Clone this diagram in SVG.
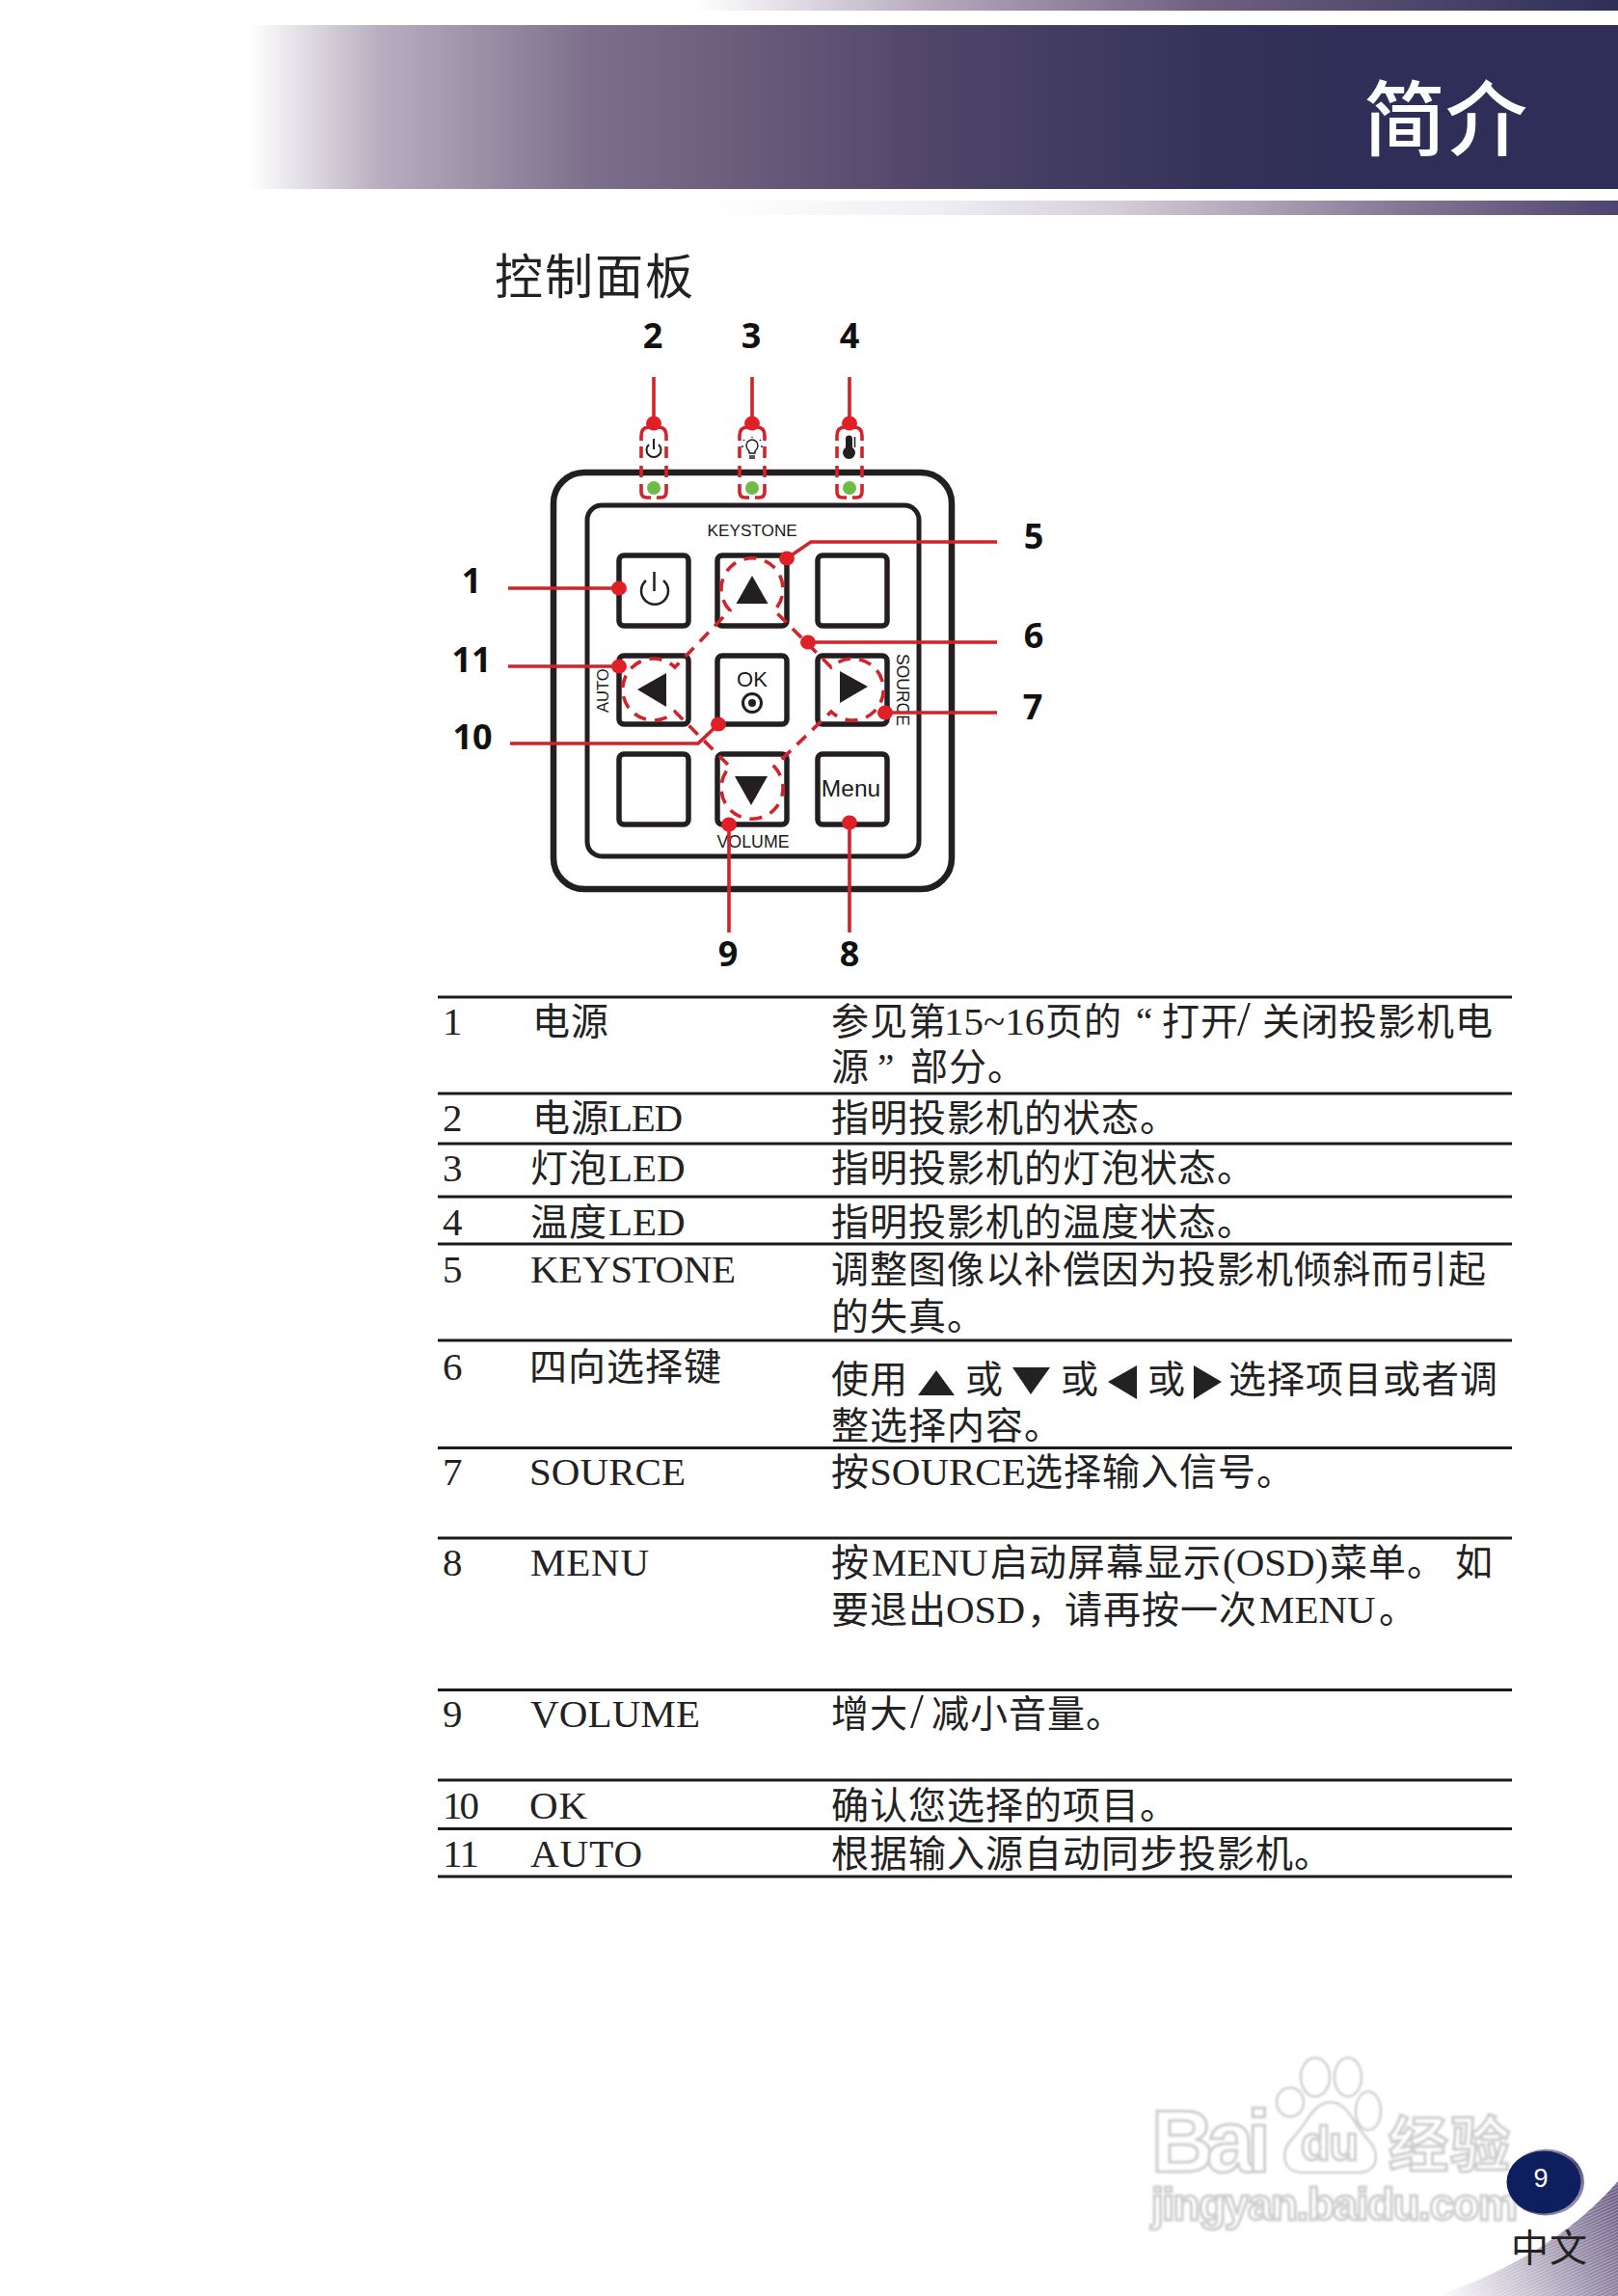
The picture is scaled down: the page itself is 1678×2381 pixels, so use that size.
<svg xmlns="http://www.w3.org/2000/svg" xmlns:xlink="http://www.w3.org/1999/xlink" width="1678" height="2381" viewBox="0 0 1678 2381">
<style>
text{font-family:"Liberation Serif","Noto Sans CJK SC",serif;font-size:39px;letter-spacing:1px;fill:#222}
.l{font-size:41px;letter-spacing:0}
.s{font-size:50px;letter-spacing:0}
.h{font-family:"Noto Sans CJK SC",sans-serif;letter-spacing:0}
.n{font-family:"Open Sans","Liberation Sans",sans-serif;font-weight:700;font-size:36px;letter-spacing:0;fill:#111;text-anchor:middle}
.a{font-family:"Liberation Sans",Arial,sans-serif;letter-spacing:0;fill:#1a1a1a}
.rule{stroke:#1a1a1a;stroke-width:3}
.btn{fill:#fff;stroke:#231f20;stroke-width:5.5}
.tri{fill:#231f20}
.lead{fill:none;stroke:#d2232a;stroke-width:3.6}
.dash{fill:none;stroke:#d2232a;stroke-width:3.6}
.dot{fill:#e01f26}
.ic{fill:none;stroke:#231f20;stroke-width:2}
.wm{fill:#fff;stroke:#cfcfcf;stroke-width:3;font-family:"Liberation Sans",sans-serif;font-weight:700;letter-spacing:0}
</style>
<defs>
<linearGradient id="gTop" gradientUnits="userSpaceOnUse" x1="721" y1="0" x2="1678" y2="0">
<stop offset="0" stop-color="#fff"/><stop offset=".26" stop-color="#b3a8bb"/><stop offset=".55" stop-color="#6f6081"/><stop offset="1" stop-color="#2e2e58"/>
</linearGradient>
<linearGradient id="gBand" gradientUnits="userSpaceOnUse" x1="258" y1="0" x2="1678" y2="0">
<stop offset="0" stop-color="#fff"/><stop offset=".095" stop-color="#b8aec0"/><stop offset=".25" stop-color="#7d6f8b"/><stop offset=".335" stop-color="#70607f"/><stop offset=".50" stop-color="#4f4569"/><stop offset=".70" stop-color="#35325a"/><stop offset=".83" stop-color="#2e2e58"/>
</linearGradient>
<linearGradient id="gLow" gradientUnits="userSpaceOnUse" x1="735" y1="0" x2="1678" y2="0">
<stop offset="0" stop-color="#fff"/><stop offset=".25" stop-color="#f1eef3"/><stop offset=".45" stop-color="#d3cdd8"/><stop offset=".595" stop-color="#b0a5b9"/><stop offset=".74" stop-color="#8b7c98"/><stop offset="1" stop-color="#4e4470"/>
</linearGradient>
<linearGradient id="gCorner" gradientUnits="userSpaceOnUse" x1="1490" y1="2381" x2="1678" y2="2290">
<stop offset="0" stop-color="#fff"/><stop offset=".4" stop-color="#c9c3d2"/><stop offset="1" stop-color="#6e6288"/>
</linearGradient>
<pattern id="stripe" width="6" height="3" patternUnits="userSpaceOnUse" patternTransform="rotate(-24)">
<rect width="6" height="1" fill="#fff" opacity=".35"/>
</pattern>
<linearGradient id="gPage" x1="0" y1="0" x2="1" y2="1">
<stop offset="0" stop-color="#e6e4ee"/><stop offset=".55" stop-color="#4d4a78"/><stop offset="1" stop-color="#b9b6cc"/>
</linearGradient>
<filter id="soft" x="-5%" y="-5%" width="110%" height="110%"><feGaussianBlur stdDeviation="1.2"/></filter>
<g id="ledBox">
<path class="dash" d="M-6 443H-5Q-13 443 -13 452V457M-13 463V475M-13 483V495M-13 502V510Q-13 516 -7 516H-3M3 516H7Q13 516 13 510V502M13 495V483M13 475V463M13 457V452Q13 443 5 443H6"/>
<circle cx="0" cy="506" r="7" fill="#6abd45"/>
</g>
</defs>
<rect width="1678" height="2381" fill="#fff"/>

<g id="header">
<rect x="721" y="0" width="957" height="11" fill="url(#gTop)"/>
<rect x="258" y="26" width="1420" height="170" fill="url(#gBand)"/>
<rect x="735" y="208" width="943" height="15" fill="url(#gLow)"/>
<text class="h" x="1414" y="155" font-weight="500" style="font-size:85px;fill:#fff" textLength="170">简介</text>
<text class="h" x="513" y="305" style="font-size:50px;fill:#222" textLength="206">控制面板</text>
</g>

<g id="panel">
<rect x="574" y="490" width="413" height="432" rx="32" fill="#fff" stroke="#231f20" stroke-width="6.5"/>
<rect x="609" y="524" width="344" height="364" rx="15" fill="#fff" stroke="#231f20" stroke-width="5"/>
<text class="a" x="733.5" y="556" style="font-size:17.2px">KEYSTONE</text>
<text class="a" x="743.5" y="879" style="font-size:17.8px">VOLUME</text>
<text class="a" transform="translate(631 739) rotate(-90)" style="font-size:16.5px">AUTO</text>
<text class="a" transform="translate(930 678) rotate(90)" style="font-size:17.5px">SOURCE</text>
</g>

<g id="led-power"><use xlink:href="#ledBox" href="#ledBox" x="678"/>
<path class="ic" d="M673 461A7.5 7.5 0 1 0 683 461M678 455V466"/></g>
<g id="led-lamp"><use xlink:href="#ledBox" href="#ledBox" x="780"/>
<path class="ic" style="stroke-width:1.5" d="M777 470V468Q774 465 774 462A6 6 0 0 1 786 462Q786 465 783 468V470ZM777 473H783M777 475H783M780 453V454M771 456L772 457M789 456L788 457M769 463H771M789 463H791"/></g>
<g id="led-temp"><use xlink:href="#ledBox" href="#ledBox" x="881"/>
<path fill="#231f20" d="M877 455A3.5 3.5 0 0 1 884 455V464A6.5 6.5 0 1 1 877 464Z"/>
<path stroke="#231f20" stroke-width="1.5" d="M886.500 453V464"/></g>

<g id="btn-power"><rect class="btn" x="642" y="576" width="72" height="73" rx="5"/>
<path class="ic" d="M670 602A14 14 0 1 0 688 602M678.500 593V613" style="stroke-width:2.500"/></g>
<g id="btn-up"><rect class="btn" x="744" y="576" width="72" height="73" rx="5"/><polygon class="tri" points="780,597 796.500,626 763.500,626"/></g>
<g id="btn-blank1"><rect class="btn" x="848" y="576" width="72" height="73" rx="5"/></g>
<g id="btn-left"><rect class="btn" x="642" y="680" width="72" height="71" rx="5"/><polygon class="tri" points="661,715 691,698 691,733"/></g>
<g id="btn-ok"><rect class="btn" x="744" y="680" width="72" height="71" rx="5"/>
<text class="a" x="780" y="712" text-anchor="middle" style="font-size:22px">OK</text>
<circle cx="780" cy="729" r="9.500" fill="none" stroke="#231f20" stroke-width="3"/><circle cx="780" cy="729" r="4" fill="#231f20"/></g>
<g id="btn-right"><rect class="btn" x="848" y="680" width="72" height="71" rx="5"/><polygon class="tri" points="900,712 871,696 871,729"/></g>
<g id="btn-blank2"><rect class="btn" x="642" y="782" width="72" height="73" rx="5"/></g>
<g id="btn-down"><rect class="btn" x="744" y="782" width="72" height="73" rx="5"/><polygon class="tri" points="762,805 796,805 779,835"/></g>
<g id="btn-menu"><rect class="btn" x="848" y="782" width="72" height="73" rx="5"/>
<text class="a" x="882.500" y="826" text-anchor="middle" style="font-size:24.500px">Menu</text></g>

<g id="callout-labels">
<text class="n" x="677" y="361">2</text><text class="n" x="779" y="361">3</text><text class="n" x="881" y="361">4</text>
<text class="n" x="1072" y="569">5</text><text class="n" x="1072" y="672">6</text><text class="n" x="1071" y="746">7</text>
<text class="n" x="489" y="615">1</text><text class="n" x="489" y="697">11</text><text class="n" x="490" y="777">10</text>
<text class="n" x="755" y="1002">9</text><text class="n" x="881" y="1002">8</text>
</g>

<g id="connectors">
<path class="dash" stroke-dasharray="13 9" d="M757 633A32 32 0 1 1 803 633L808 638L862 692A32 32 0 1 1 862 738L808 790L803 795A32 32 0 1 1 757 795L752 790L700 738A32 32 0 1 1 700 692L752 638Z"/>
<path class="lead" d="M678 391V439M780 391V439M881 391V439M527 610H642M1034 562H841L816 579M1034 666H838M1034 739H918M527 691H642M529 771H724L745 751M756 967V855M881 967V853"/>
<g class="dot">
<ellipse cx="678" cy="439" rx="8" ry="7.500"/><ellipse cx="780" cy="439" rx="8" ry="7.500"/><ellipse cx="881" cy="439" rx="8" ry="7.500"/>
<ellipse cx="642" cy="610" rx="8" ry="7.500"/><ellipse cx="816" cy="579" rx="8" ry="7.500"/><ellipse cx="838" cy="666" rx="8" ry="7.500"/>
<ellipse cx="918" cy="739" rx="8" ry="7.500"/><ellipse cx="642" cy="691" rx="8" ry="7.500"/><ellipse cx="745" cy="751" rx="8" ry="7.500"/>
<ellipse cx="756" cy="855" rx="8" ry="7.500"/><ellipse cx="881" cy="853" rx="8" ry="7.500"/>
</g>
</g>

<g id="table">
<g id="rules" class="rule">
<path d="M454 1034H1568M454 1134H1568M454 1186H1568M454 1241H1568M454 1290H1568M454 1390H1568M454 1501.500H1568M454 1595H1568M454 1752.500H1568M454 1846H1568M454 1896.500H1568M454 1946H1568"/>
</g>
<g id="row1"><text class="l" x="459" y="1073">1</text><text x="552" y="1073">电源</text>
<text x="862" y="1073">参见第<tspan class="l" x="979">15~16</tspan><tspan x="1084">页的</tspan><tspan x="1178">“</tspan><tspan x="1205">打开</tspan><tspan class="s" x="1283">/</tspan><tspan x="1309">关闭投影机电</tspan></text>
<text x="862" y="1120">源<tspan x="910">”</tspan><tspan x="944">部分。</tspan></text></g>
<g id="row2"><text class="l" x="459" y="1173">2</text><text x="552" y="1173">电源<tspan class="l" x="631" textLength="77">LED</tspan></text><text x="862" y="1173">指明投影机的状态。</text></g>
<g id="row3"><text class="l" x="459" y="1225">3</text><text x="550" y="1225">灯泡<tspan class="l" x="631">LED</tspan></text><text x="862" y="1225">指明投影机的灯泡状态。</text></g>
<g id="row4"><text class="l" x="459" y="1281">4</text><text x="550" y="1281">温度<tspan class="l" x="631">LED</tspan></text><text x="862" y="1281">指明投影机的温度状态。</text></g>
<g id="row5"><text class="l" x="459" y="1330">5</text><text class="l" x="550" y="1330" textLength="213">KEYSTONE</text>
<text x="862" y="1330">调整图像以补偿因为投影机倾斜而引起</text><text x="862" y="1379">的失真。</text></g>
<g id="row6"><text class="l" x="459" y="1431">6</text><text x="549" y="1431">四向选择键</text>
<text x="862" y="1444">使用</text><polygon fill="#222" points="971,1421 990,1447 952,1447"/>
<text x="1001" y="1444">或</text><polygon fill="#222" points="1050,1418 1089,1418 1069,1446"/>
<text x="1100" y="1444">或</text><polygon fill="#222" points="1149,1433 1179,1416 1179,1451"/>
<text x="1190" y="1444">或</text><polygon fill="#222" points="1238,1416 1267,1433 1238,1451"/>
<text x="1274" y="1444">选择项目或者调</text>
<text x="862" y="1492">整选择内容。</text></g>
<g id="row7"><text class="l" x="459" y="1540">7</text><text class="l" x="549" y="1540" textLength="162">SOURCE</text><text x="862" y="1540">按<tspan class="l" x="902">SOURCE</tspan><tspan x="1063">选择输入信号。</tspan></text></g>
<g id="row8"><text class="l" x="459" y="1634">8</text><text class="l" x="550" y="1634" textLength="123">MENU</text>
<text x="862" y="1634">按<tspan class="l" x="904">MENU</tspan><tspan x="1027">启动屏幕显示</tspan><tspan class="l" x="1268">(OSD)</tspan><tspan x="1379">菜单。</tspan><tspan x="1509">如</tspan></text>
<text x="862" y="1683">要退出<tspan class="l" x="981">OSD</tspan><tspan x="1065">，</tspan><tspan x="1104">请再按一次</tspan><tspan class="l" x="1306">MENU</tspan><tspan x="1430">。</tspan></text></g>
<g id="row9"><text class="l" x="459" y="1791">9</text><text class="l" x="550" y="1791" textLength="176">VOLUME</text><text x="862" y="1791">增大<tspan class="s" x="944">/</tspan><tspan x="966">减小音量。</tspan></text></g>
<g id="row10"><text class="l" x="459" y="1886" textLength="38">10</text><text class="l" x="549" y="1886" textLength="60">OK</text><text x="862" y="1886">确认您选择的项目。</text></g>
<g id="row11"><text class="l" x="459" y="1936" textLength="38">11</text><text class="l" x="550" y="1936" textLength="116">AUTO</text><text x="862" y="1936">根据输入源自动同步投影机。</text></g>
</g>

<g id="corner">
<path d="M1490 2381Q1610 2340 1678 2262V2381Z" fill="url(#gCorner)"/>
<path d="M1490 2381Q1610 2340 1678 2262V2381Z" fill="url(#stripe)"/>
</g>

<g id="watermark" filter="url(#soft)">
<text class="wm" x="1194" y="2252" style="font-size:90px" textLength="124">Bai</text>
<g fill="#fff" stroke="#cfcfcf" stroke-width="2.500">
<ellipse cx="1364" cy="2154" rx="15" ry="20"/><ellipse cx="1398" cy="2154" rx="14" ry="20"/><ellipse cx="1338" cy="2180" rx="14" ry="15"/><ellipse cx="1419" cy="2189" rx="13" ry="20"/>
<path d="M1380 2180C1398 2180 1405 2205 1418 2218C1432 2232 1430 2253 1408 2253H1352C1330 2253 1326 2232 1342 2216C1354 2204 1362 2180 1380 2180Z"/>
</g>
<text class="wm" x="1349" y="2240" style="font-size:50px" textLength="60">du</text>
<text class="h" x="1440" y="2247" font-weight="700" style="font-size:62px;fill:#fff;stroke:#cfcfcf;stroke-width:3" textLength="126">经验</text>
<text class="wm" x="1194" y="2302" style="font-size:46px" textLength="380">jingyan.baidu.com</text>
</g>

<g id="page">
<ellipse cx="1603" cy="2263" rx="40" ry="34.500" fill="url(#gPage)"/>
<ellipse cx="1601" cy="2263" rx="38.500" ry="32.500" fill="#0d1f5f"/>
<text x="1598" y="2268" text-anchor="middle" style="font-family:'Liberation Sans',sans-serif;font-size:27px;fill:#fff;letter-spacing:0">9</text>
<text x="1567" y="2345">中文</text>
</g>
</svg>
